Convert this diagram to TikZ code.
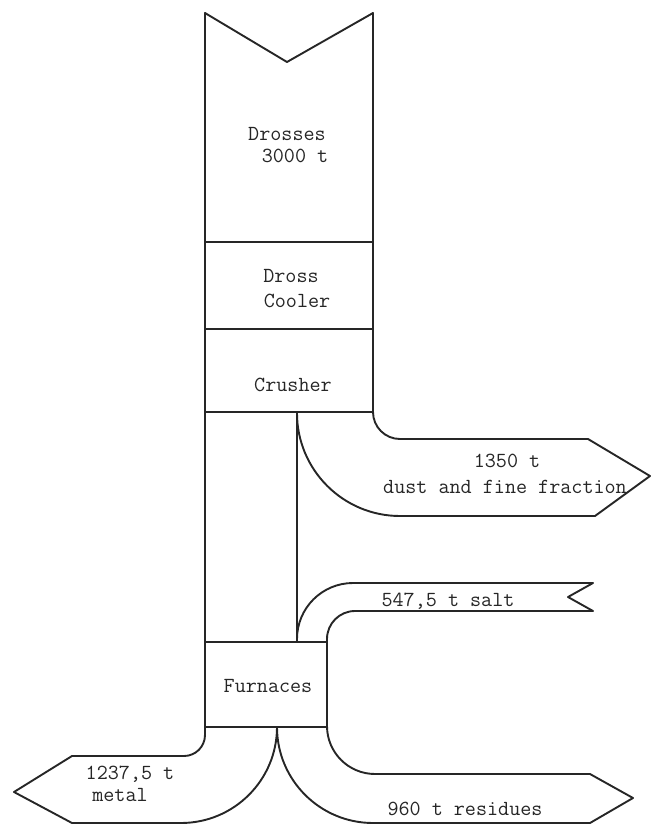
\documentclass[tikz,border=0pt]{standalone}
\begin{document}
\begin{tikzpicture}[x=1pt,y=-1pt,
  flow/.style={line width=1.9pt,line join=round,line cap=round,black!85},
  lbl/.style={font=\ttfamily\fontsize{21.5}{24}\selectfont,anchor=base,inner sep=0pt,black!85}]
\useasboundingbox (0,0) rectangle (657,825);
% named corner points
\coordinate (tl) at (205,13);
\coordinate (tr) at (373,13);
\coordinate (notch) at (287,62);
\coordinate (drL) at (205,242);  \coordinate (drR) at (373,242);
\coordinate (coL) at (205,329);  \coordinate (coR) at (373,329);
\coordinate (crL) at (205,412);  \coordinate (crR) at (373,412);
\coordinate (split1) at (297,412);
\coordinate (fuTL) at (205,642); \coordinate (fuTR) at (327,642);
\coordinate (split2) at (297,642);
\coordinate (fuBL) at (205,727); \coordinate (fuBR) at (327,727);
\coordinate (split3) at (277,727);
% dust arrow points
\coordinate (duM) at (480,439);
\coordinate (duT) at (588,439); \coordinate (duTip) at (650,476);
\coordinate (duB) at (595,516); \coordinate (duBL) at (400,516);
% salt arrow points
\coordinate (saM) at (460,583); \coordinate (saM2) at (420,611);
\coordinate (saT) at (593,583); \coordinate (saN) at (568,597);
\coordinate (saB) at (593,611);
% metal arrow points
\coordinate (meM) at (140,756);
\coordinate (meT) at (72,756); \coordinate (meTip) at (14,792);
\coordinate (meB) at (72,823); \coordinate (meBR) at (181,823);
% residues arrow points
\coordinate (reM) at (480,774);
\coordinate (reT) at (590,774); \coordinate (reTip) at (633,798);
\coordinate (reB) at (590,823); \coordinate (reBL) at (373,823);

% main column
\draw[flow] (tl) -- (notch) -- (tr);
\draw[flow] (tl) -- (fuBL);
\draw[flow] (tr) -- (crR);
\draw[flow] (drL) -- (drR);
\draw[flow] (coL) -- (coR);
\draw[flow] (crL) -- (crR);
% dust and fine fraction
\draw[flow] (crR) [rounded corners=27] |- (duM) [sharp corners] -- (duT) -- (duTip) -- (duB) -- (duBL)
  [rounded corners=103] -| (split1);
\draw[flow] (split1) -- (split2);
% furnaces box
\draw[flow] (fuTL) -- (fuTR) -- (fuBR) -- (fuBL);
% salt
\draw[flow] (split2) [rounded corners=56] |- (saM) [sharp corners] -- (saT) -- (saN) -- (saB) -- (saM2)
  [rounded corners=28] -| (fuTR);
% metal
\draw[flow] (fuBL) [rounded corners=21] |- (meM) [sharp corners] -- (meT) -- (meTip) -- (meB) -- (meBR)
  [rounded corners=96] -| (split3);
% residues
\draw[flow] (fuBR) [rounded corners=48] |- (reM) [sharp corners] -- (reT) -- (reTip) -- (reB) -- (reBL)
  [rounded corners=96] -| (split3);

% labels
\node[lbl] (t1) at (287,140) {Drosses};
\node[lbl] (t2) at (295,162) {3000 t};
\node[lbl] (t3) at (291,282) {Dross};
\node[lbl] (t4) at (297,307) {Cooler};
\node[lbl] (t5) at (293,391) {Crusher};
\node[lbl] (t6) at (507,467) {1350 t};
\node[lbl] (t7) at (505,493) {dust and fine fraction};
\node[lbl] (t8) at (448,606) {547,5 t salt};
\node[lbl] (t9) at (268,692) {Furnaces};
\node[lbl] (t10) at (130,779) {1237,5 t};
\node[lbl] (t11) at (120,801) {metal};
\node[lbl] (t12) at (465,815) {960 t residues};
\end{tikzpicture}
\end{document}
